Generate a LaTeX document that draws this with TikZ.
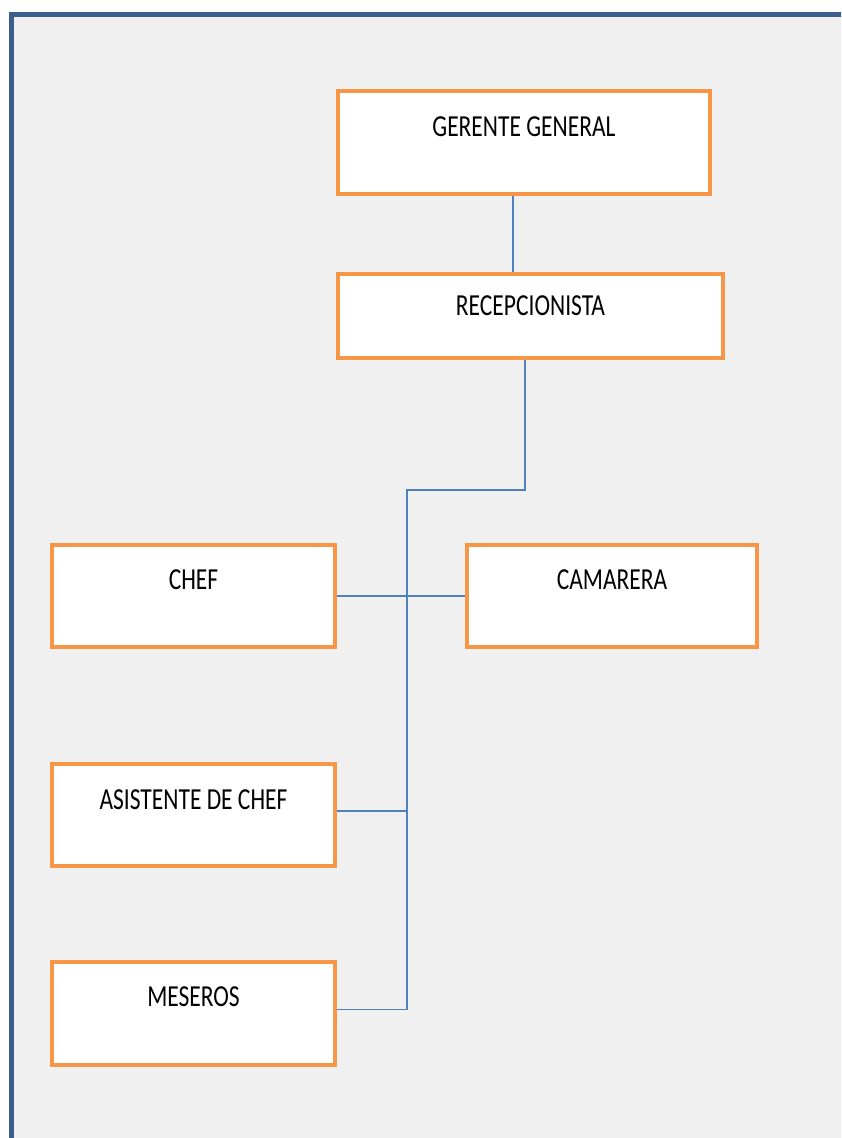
\documentclass[tikz,border=0pt]{standalone}
\usepackage{fontspec,graphicx}
\setmainfont{Carlito}
\definecolor{frameblue}{HTML}{3A5F8F}
\definecolor{boxorange}{HTML}{F79646}
\definecolor{linkblue}{HTML}{4F81BD}
\definecolor{pagegray}{HTML}{F0F0F0}
\newcommand{\boxtext}[1]{\scalebox{1}[1.3]{#1}}

\begin{document}
\begin{tikzpicture}[x=1pt,y=-1pt,
    cargo/.style={draw=boxorange, line width=4pt, fill=white, minimum width=#1,
      inner sep=0pt},
    caption/.style={anchor=center, inner sep=0pt, font=\fontsize{23.5}{28}\selectfont},
    link/.style={draw=linkblue, line width=1.5pt}]
  \clip (0,0) rectangle (841,1138);
  \fill[white] (0,0) rectangle (841,1138);
  \draw[frameblue, line width=5pt, fill=pagegray] (11,14.5) rectangle (900,1200);

  \node[cargo=372pt, minimum height=103pt,
    label={[caption, yshift=-38pt]north:\boxtext{GERENTE GENERAL}}] (gerente) at (524,142.5) {};
  \node[cargo=385pt, minimum height=84pt,
    label={[caption, yshift=-34pt]north:\boxtext{RECEPCIONISTA}}] (recep) at (530.5,316) {};
  \node[cargo=283pt, minimum height=102pt,
    label={[caption, yshift=-37pt]north:\boxtext{CHEF}}] (chef) at (193.5,596) {};
  \node[cargo=290pt, minimum height=102pt,
    label={[caption, yshift=-37pt]north:\boxtext{CAMARERA}}] (camarera) at (612,596) {};
  \node[cargo=283pt, minimum height=102pt,
    label={[caption, yshift=-38pt]north:\boxtext{ASISTENTE DE CHEF}}] (asistente) at (193.5,815) {};
  \node[cargo=283pt, minimum height=103pt,
    label={[caption, yshift=-37pt]north:\boxtext{MESEROS}}] (meseros) at (193.5,1013.5) {};

  \coordinate (spine) at (407,490);
  \draw[link] (513,0 |- gerente.south) -- (513,0 |- recep.north);
  \draw[link] (525,0 |- recep.south) |- (spine) -- ([yshift=4pt]spine |- meseros.east);
  \draw[link] (chef.east) -- (camarera.west);
  \draw[link] ([yshift=4pt]asistente.east) -- ([yshift=4pt]spine |- asistente.east);
  \draw[link] ([yshift=4pt]meseros.east) -- ([yshift=4pt]spine |- meseros.east);
\end{tikzpicture}
\end{document}
